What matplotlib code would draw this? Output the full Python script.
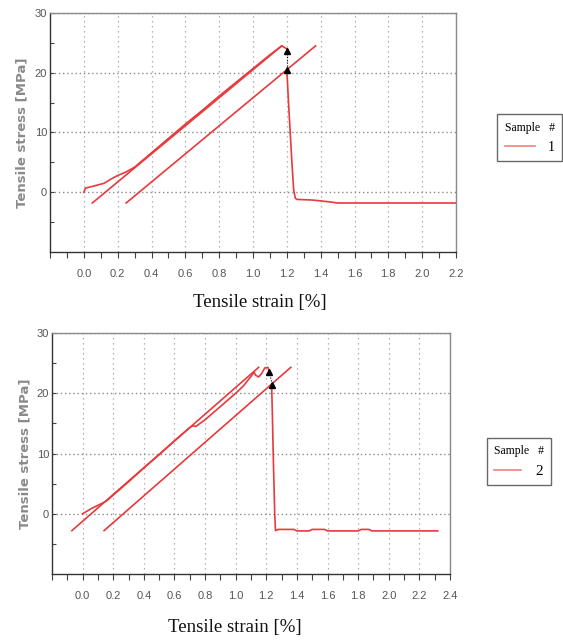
import matplotlib
matplotlib.use("Agg")
import matplotlib.pyplot as plt
from matplotlib.ticker import MultipleLocator, FormatStrFormatter

# ---------------- data ----------------
# Sample 1
s1_curve_x = [0.00, 0.01, 0.04, 0.08, 0.12, 0.16, 0.20, 0.25, 0.30, 0.40, 0.50, 0.60, 0.70, 0.80, 0.90, 1.00, 1.10, 1.17, 1.20]
s1_curve_y = [0.0, 0.7, 0.9, 1.2, 1.5, 2.2, 2.8, 3.4, 4.2, 6.6, 9.0, 11.4, 13.7, 16.1, 18.4, 20.7, 23.0, 24.5, 24.0]
s1_drop_x = [1.20, 1.21, 1.22, 1.23, 1.24, 1.25, 1.26, 1.35, 1.40, 1.45, 1.50, 1.60, 1.80, 2.00, 2.20]
s1_drop_y = [20.5, 15.0, 10.0, 5.0, 0.5, -1.0, -1.2, -1.3, -1.45, -1.6, -1.8, -1.8, -1.8, -1.8, -1.8]
s1_fit_x = [0.05, 1.17]
s1_fit_y = [-1.8, 24.5]
s1_offset_x = [0.25, 1.37]
s1_offset_y = [-1.8, 24.5]
s1_mark_x = [1.20, 1.20]
s1_mark_y = [23.7, 20.5]

# Sample 2
s2_curve_x = [0.00, 0.02, 0.06, 0.10, 0.14, 0.16, 0.20, 0.30, 0.40, 0.50, 0.60, 0.70, 0.72, 0.74, 0.80, 0.90, 1.00, 1.05, 1.10, 1.12, 1.13, 1.15, 1.17, 1.19, 1.21, 1.22]
s2_curve_y = [0.0, 0.3, 0.9, 1.4, 1.9, 2.2, 3.1, 5.3, 7.6, 9.8, 12.1, 14.3, 14.6, 14.5, 15.6, 17.8, 20.0, 21.2, 22.8, 23.5, 23.0, 22.7, 23.3, 24.2, 24.3, 23.6]
s2_drop_x = [1.235, 1.24, 1.245, 1.25, 1.255, 1.26, 1.28, 1.38, 1.40, 1.48, 1.50, 1.58, 1.60, 1.80, 1.82, 1.87, 1.89, 2.32]
s2_drop_y = [21.3, 16.0, 10.0, 5.0, 0.0, -2.8, -2.6, -2.6, -2.85, -2.85, -2.6, -2.6, -2.85, -2.85, -2.6, -2.6, -2.85, -2.85]
s2_fit_x = [-0.07, 1.15]
s2_fit_y = [-2.8, 24.3]
s2_offset_x = [0.14, 1.36]
s2_offset_y = [-2.8, 24.3]
s2_mark_x = [1.22, 1.24]
s2_mark_y = [23.5, 21.3]

x_label = "Tensile strain [%]"
y_label = "Tensile stress [MPa]"
legend_title = "Sample   #"
sample_labels = ["1", "2"]

RED = "#e8393c"

fig = plt.figure(figsize=(5.63, 6.43), dpi=100)

def style_axes(ax, xmax, xlab_pos, ylab_pos):
    ax.set_xlim(-0.2, xmax)
    ax.set_ylim(-10, 30)
    ax.set_xticks([round(0.2 * i, 1) for i in range(int(round(xmax / 0.2)) + 1)])
    ax.xaxis.set_minor_locator(MultipleLocator(0.1))
    ax.xaxis.set_major_formatter(FormatStrFormatter("%.1f"))
    ax.set_yticks([0, 10, 20, 30])
    ax.set_yticks([-5, 5, 15, 25], minor=True)
    ax.tick_params(axis="x", which="both", direction="out", length=4, width=0.8,
                   color="#444444", pad=8, labelsize=8, labelcolor="#555555")
    ax.tick_params(axis="y", which="both", direction="in", length=3, width=0.8,
                   color="#444444", pad=2, labelsize=8, labelcolor="#555555")
    for lab in ax.get_xticklabels() + ax.get_yticklabels():
        lab.set_fontfamily("Liberation Sans")
    ax.grid(True, which="major", axis="x", linestyle=(0, (1, 3)), color="#a0a0a0", linewidth=0.9)
    ax.grid(True, which="major", axis="y", linestyle=(0, (1, 2)), color="#8a8a8a", linewidth=1.0)
    for side in ["top", "right"]:
        ax.spines[side].set_color("#8a8a8a")
    for side in ["left", "bottom"]:
        ax.spines[side].set_color("#333333")
    for sp in ax.spines.values():
        sp.set_linewidth(1.0)
    ax.set_xlabel(x_label, fontfamily="Liberation Serif", fontsize=13.5, color="#111111", va="center")
    ax.xaxis.set_label_coords(*xlab_pos)
    ax.set_ylabel(y_label, fontfamily="DejaVu Sans", fontsize=9.5, fontweight="bold", color="#8a8a8a", va="center")
    ax.yaxis.set_label_coords(*ylab_pos)


def draw(ax, cx, cy, dx, dy, fx, fy, ox, oy, mx, my, label):
    ax.plot(cx, cy, color=RED, lw=1.2, label=label)
    ax.plot(dx, dy, color=RED, lw=1.2)
    ax.plot(fx, fy, color=RED, lw=1.2)
    ax.plot(ox, oy, color=RED, lw=1.2)
    ax.plot(mx, my, color="black", lw=0.8, linestyle=(0, (1, 1.5)))
    ax.plot(mx, my, linestyle="none", marker="^", color="black", markersize=5)


# top panel
ax1 = fig.add_axes([50 / 563, 1 - 252 / 643, 406 / 563, 239 / 643])
draw(ax1, s1_curve_x, s1_curve_y, s1_drop_x, s1_drop_y, s1_fit_x, s1_fit_y,
     s1_offset_x, s1_offset_y, s1_mark_x, s1_mark_y, sample_labels[0])
style_axes(ax1, 2.2, (0.516, -0.212), (-0.069, 0.5))

# bottom panel
ax2 = fig.add_axes([52 / 563, 1 - 574 / 643, 398 / 563, 241 / 643])
draw(ax2, s2_curve_x, s2_curve_y, s2_drop_x, s2_drop_y, s2_fit_x, s2_fit_y,
     s2_offset_x, s2_offset_y, s2_mark_x, s2_mark_y, sample_labels[1])
style_axes(ax2, 2.4, (0.46, -0.224), (-0.068, 0.5))


def add_legend(ax, x0, y0, fs, title_fs, hl, pad):
    leg = ax.legend(title=legend_title, loc="upper left", bbox_to_anchor=(x0, y0),
                    bbox_transform=fig.transFigure, frameon=True, fancybox=False,
                    edgecolor="#444444", borderpad=pad, borderaxespad=0,
                    handlelength=hl, handletextpad=0.9, alignment="left",
                    prop={"family": "Liberation Serif", "size": fs},
                    title_fontproperties={"family": "Liberation Serif", "size": title_fs})
    leg.get_frame().set_linewidth(1.0)
    for l in leg.get_lines():
        l.set_color("#f08080")
        l.set_linewidth(1.2)
    return leg

add_legend(ax1, 497 / 563, 1 - 114 / 643, 10, 8.5, 2.2, 0.55)
add_legend(ax2, 487 / 563, 1 - 438 / 643, 11, 8.5, 1.8, 0.45)

fig.savefig("out.png", dpi=100)
